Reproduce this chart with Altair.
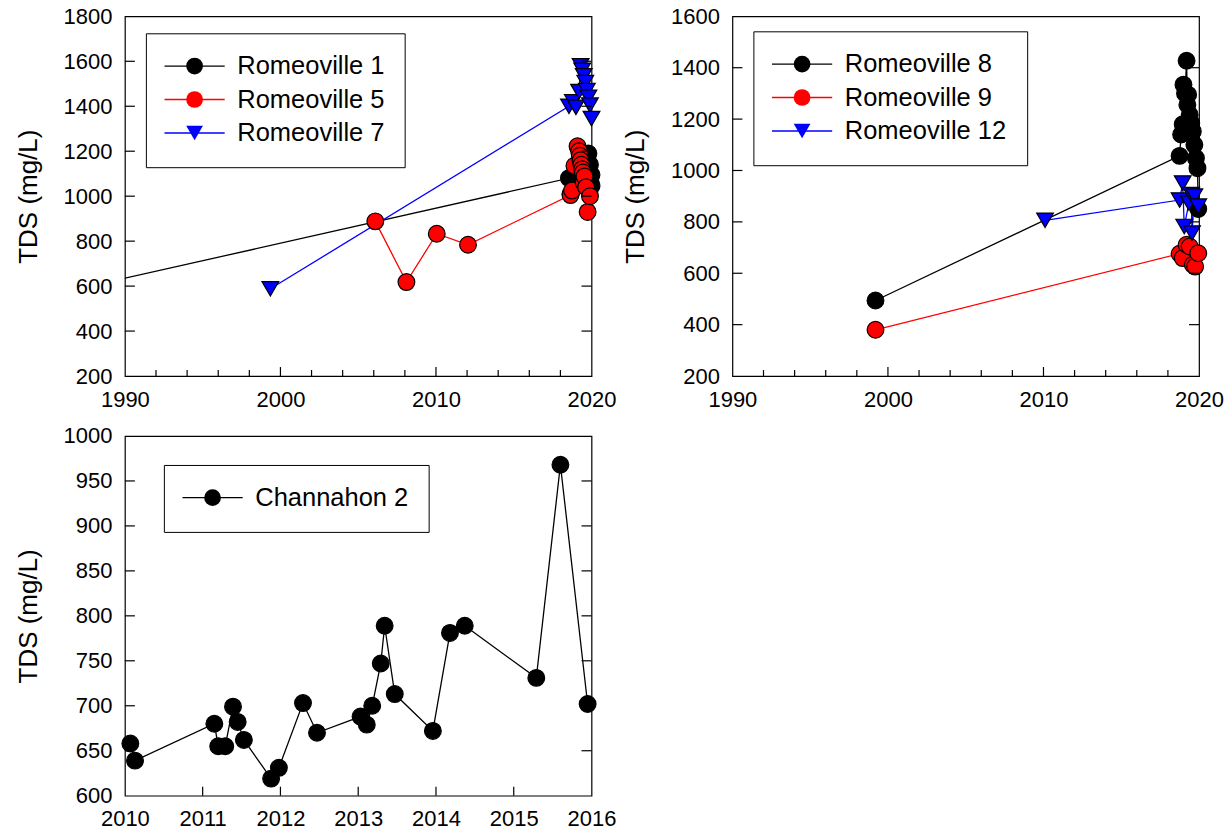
import altair as alt
import pandas as pd

FONT = "Liberation Sans"

# ---------------- Panel 1 : Romeoville 1 / 5 / 7 ----------------
p1_names = ["Romeoville 1", "Romeoville 5", "Romeoville 7"]
p1_colors = ["#000000", "#ff0000", "#0000ff"]
p1_shapes = ["circle", "circle", "triangle-down"]

r1_year = [1985.0, 2018.55, 2018.65, 2019.1, 2019.5, 2019.8, 2019.9, 2019.95, 2020.0, 2020.0]
r1_tds = [557, 1080, 1010, 1120, 1100, 1190, 1140, 1060, 1095, 1045]

r5_year = [2006.1, 2008.1, 2010.05, 2012.06, 2018.65, 2018.75, 2018.9, 2019.1, 2019.2, 2019.25,
           2019.3, 2019.35, 2019.4, 2019.45, 2019.5, 2019.55, 2019.65, 2019.75, 2019.9]
r5_tds = [888, 618, 833, 784, 1005, 1025, 1135, 1222, 1200, 1180,
          1160, 1140, 1120, 1105, 1060, 1088, 1040, 930, 1000]

r7_year = [1999.35, 2018.55, 2018.8, 2019.0, 2019.2, 2019.3, 2019.4, 2019.5, 2019.6, 2019.7,
           2019.8, 2019.9, 2020.0]
r7_tds = [588, 1400, 1420, 1395, 1465, 1580, 1560, 1535, 1505, 1470, 1440, 1405, 1345]

# ---------------- Panel 2 : Romeoville 8 / 9 / 12 ----------------
p2_names = ["Romeoville 8", "Romeoville 9", "Romeoville 12"]
p2_colors = ["#000000", "#ff0000", "#0000ff"]
p2_shapes = ["circle", "circle", "triangle-down"]

r8_year = [1999.2, 2018.75, 2018.85, 2018.95, 2019.0, 2019.1, 2019.2, 2019.25, 2019.3, 2019.4,
           2019.5, 2019.6, 2019.7, 2019.8, 2019.9, 2019.95]
r8_tds = [494, 1057, 1140, 1180, 1334, 1300, 1427, 1256, 1295, 1217,
          1184, 1152, 1100, 1048, 1009, 850]

r9_year = [1999.2, 2018.75, 2018.95, 2019.2, 2019.4, 2019.6, 2019.75, 2019.95]
r9_tds = [380, 676, 659, 711, 704, 633, 626, 678]

r12_year = [2010.1, 2018.75, 2018.95, 2019.05, 2019.35, 2019.5, 2019.55, 2019.7, 2019.95]
r12_tds = [806, 885, 951, 782, 873, 906, 756, 900, 861]

# ---------------- Panel 3 : Channahon 2 ----------------
p3_names = ["Channahon 2"]
p3_colors = ["#000000"]
p3_shapes = ["circle"]

ch2_year = [2010.07, 2010.13, 2011.15, 2011.20, 2011.29, 2011.39, 2011.45, 2011.53, 2011.88, 2011.98,
            2012.29, 2012.47, 2013.03, 2013.11, 2013.18, 2013.29, 2013.34, 2013.47, 2013.96, 2014.18,
            2014.37, 2015.29, 2015.60, 2015.95]
ch2_tds = [658, 639, 680, 655, 655, 699, 682, 662, 619, 631,
           703, 670, 688, 679, 700, 747, 789, 713, 672, 781,
           789, 731, 968, 702]

# axis tick values
p12_xlabels = [1990, 2000, 2010, 2020]
p12_xmajor = [2000, 2010]
p12_xminor = [1992, 1994, 1996, 1998, 2002, 2004, 2006, 2008, 2012, 2014, 2016, 2018]
p1_ylabels = [200, 400, 600, 800, 1000, 1200, 1400, 1600, 1800]
p2_ylabels = [200, 400, 600, 800, 1000, 1200, 1400, 1600]
p3_xlabels = [2010, 2011, 2012, 2013, 2014, 2015, 2016]
p3_xmajor = [2011, 2012, 2013, 2014, 2015]
p3_ylabels = [600, 650, 700, 750, 800, 850, 900, 950, 1000]

W, H = 467, 360


def long_df(names, years_list, tds_list):
    rows = []
    for n, ys, vs in zip(names, years_list, tds_list):
        for y, v in zip(ys, vs):
            # "mark" key differs (trailing space) so the marker legend stays separate
            rows.append({"series": n, "mark": n + " ", "year": y, "tds": v})
    return pd.DataFrame(rows)


def panel(df, names, colors, shapes, xdom, ydom, xlabels, ylabels, xmajor, xminor, lx, ly):
    xs = alt.Scale(domain=xdom, nice=False, zero=False)
    ys = alt.Scale(domain=ydom, nice=False, zero=False)
    xaxis = alt.Axis(values=xlabels, format="d", title=None, labelPadding=13,
                     labelFlush=False, labelOverlap=False)
    yaxis = alt.Axis(values=ylabels, format="d", title="TDS (mg/L)", labelPadding=13,
                     titlePadding=22, labelOverlap=False, labelFlush=False)
    X = alt.X("year:Q", scale=xs, axis=xaxis)
    Y = alt.Y("tds:Q", scale=ys, axis=yaxis)
    mark_names = [n + " " for n in names]

    common = dict(orient="none", legendX=lx, legendY=ly, title=None, symbolSize=280,
                  labelFont=FONT, labelFontSize=25.5, labelColor="black", labelLimit=400,
                  padding=20, rowPadding=6.5, symbolOffset=16, labelOffset=30)
    leg_line = alt.Legend(symbolType="M-3.6,0H3.6", symbolStrokeWidth=1.3,
                          strokeColor="black", fillColor="white", zindex=0, **common)
    leg_mark = alt.Legend(symbolStrokeColor="black", symbolStrokeWidth=1.2,
                          labelOpacity=0, zindex=1, **common)

    lines = alt.Chart(df).mark_line(strokeWidth=1.3, clip=True).encode(
        x=X, y=Y,
        color=alt.Color("series:N", scale=alt.Scale(domain=names, range=colors), legend=leg_line),
    )
    pts = alt.Chart(df).transform_filter(alt.datum.year >= xdom[0]).mark_point(
        filled=True, size=280, strokeWidth=1.2, opacity=1
    ).encode(
        x=X, y=Y,
        fill=alt.Fill("mark:N", scale=alt.Scale(domain=mark_names, range=colors), legend=leg_mark),
        shape=alt.Shape("mark:N", scale=alt.Scale(domain=mark_names, range=shapes), legend=leg_mark),
        stroke=alt.value("black"),
    )
    layers = [lines, pts]
    if xmajor:
        layers.append(alt.Chart(pd.DataFrame({"year": xmajor})).mark_rule(
            color="black", strokeWidth=1.2).encode(x=X, y=alt.value(H - 9), y2=alt.value(H)))
    if xminor:
        layers.append(alt.Chart(pd.DataFrame({"year": xminor})).mark_rule(
            color="black", strokeWidth=1.2).encode(x=X, y=alt.value(H - 6), y2=alt.value(H)))
    yt = pd.DataFrame({"tds": ylabels[1:-1]})
    layers.append(alt.Chart(yt).mark_rule(color="black", strokeWidth=1.2).encode(
        y=Y, x=alt.value(0), x2=alt.value(10)))
    layers.append(alt.Chart(yt).mark_rule(color="black", strokeWidth=1.2).encode(
        y=Y, x=alt.value(W - 10), x2=alt.value(W)))
    return alt.layer(*layers).properties(width=W, height=H)


df1 = long_df(p1_names, [r1_year, r5_year, r7_year], [r1_tds, r5_tds, r7_tds])
df2 = long_df(p2_names, [r8_year, r9_year, r12_year], [r8_tds, r9_tds, r12_tds])
df3 = long_df(p3_names, [ch2_year], [ch2_tds])

c1 = panel(df1, p1_names, p1_colors, p1_shapes, [1990, 2020], [200, 1800],
           p12_xlabels, p1_ylabels, p12_xmajor, p12_xminor, 21, 17)
c2 = panel(df2, p2_names, p2_colors, p2_shapes, [1990, 2020], [200, 1600],
           p12_xlabels, p2_ylabels, p12_xmajor, p12_xminor, 21, 15)
c3 = panel(df3, p3_names, p3_colors, p3_shapes, [2010, 2016], [600, 1000],
           p3_xlabels, p3_ylabels, p3_xmajor, [], 39, 29)

chart = alt.concat(c1, c2, c3, columns=2, spacing={"row": 13, "column": 4}).resolve_scale(
    color="independent", fill="independent", shape="independent",
    x="independent", y="independent",
).resolve_legend(
    color="independent", fill="independent", shape="independent",
).properties(
    padding={"left": 14, "top": 4, "right": 0, "bottom": 0},
    background="white",
).configure_view(
    stroke="black", strokeWidth=1.2
).configure_axis(
    labelFont=FONT, labelFontSize=22, labelColor="black",
    titleFont=FONT, titleFontSize=26, titleFontWeight="normal", titleColor="black",
    grid=False, domain=False, ticks=False, tickSize=0,
)

chart.save("out.html", embed_options={"renderer": "svg", "actions": False})
